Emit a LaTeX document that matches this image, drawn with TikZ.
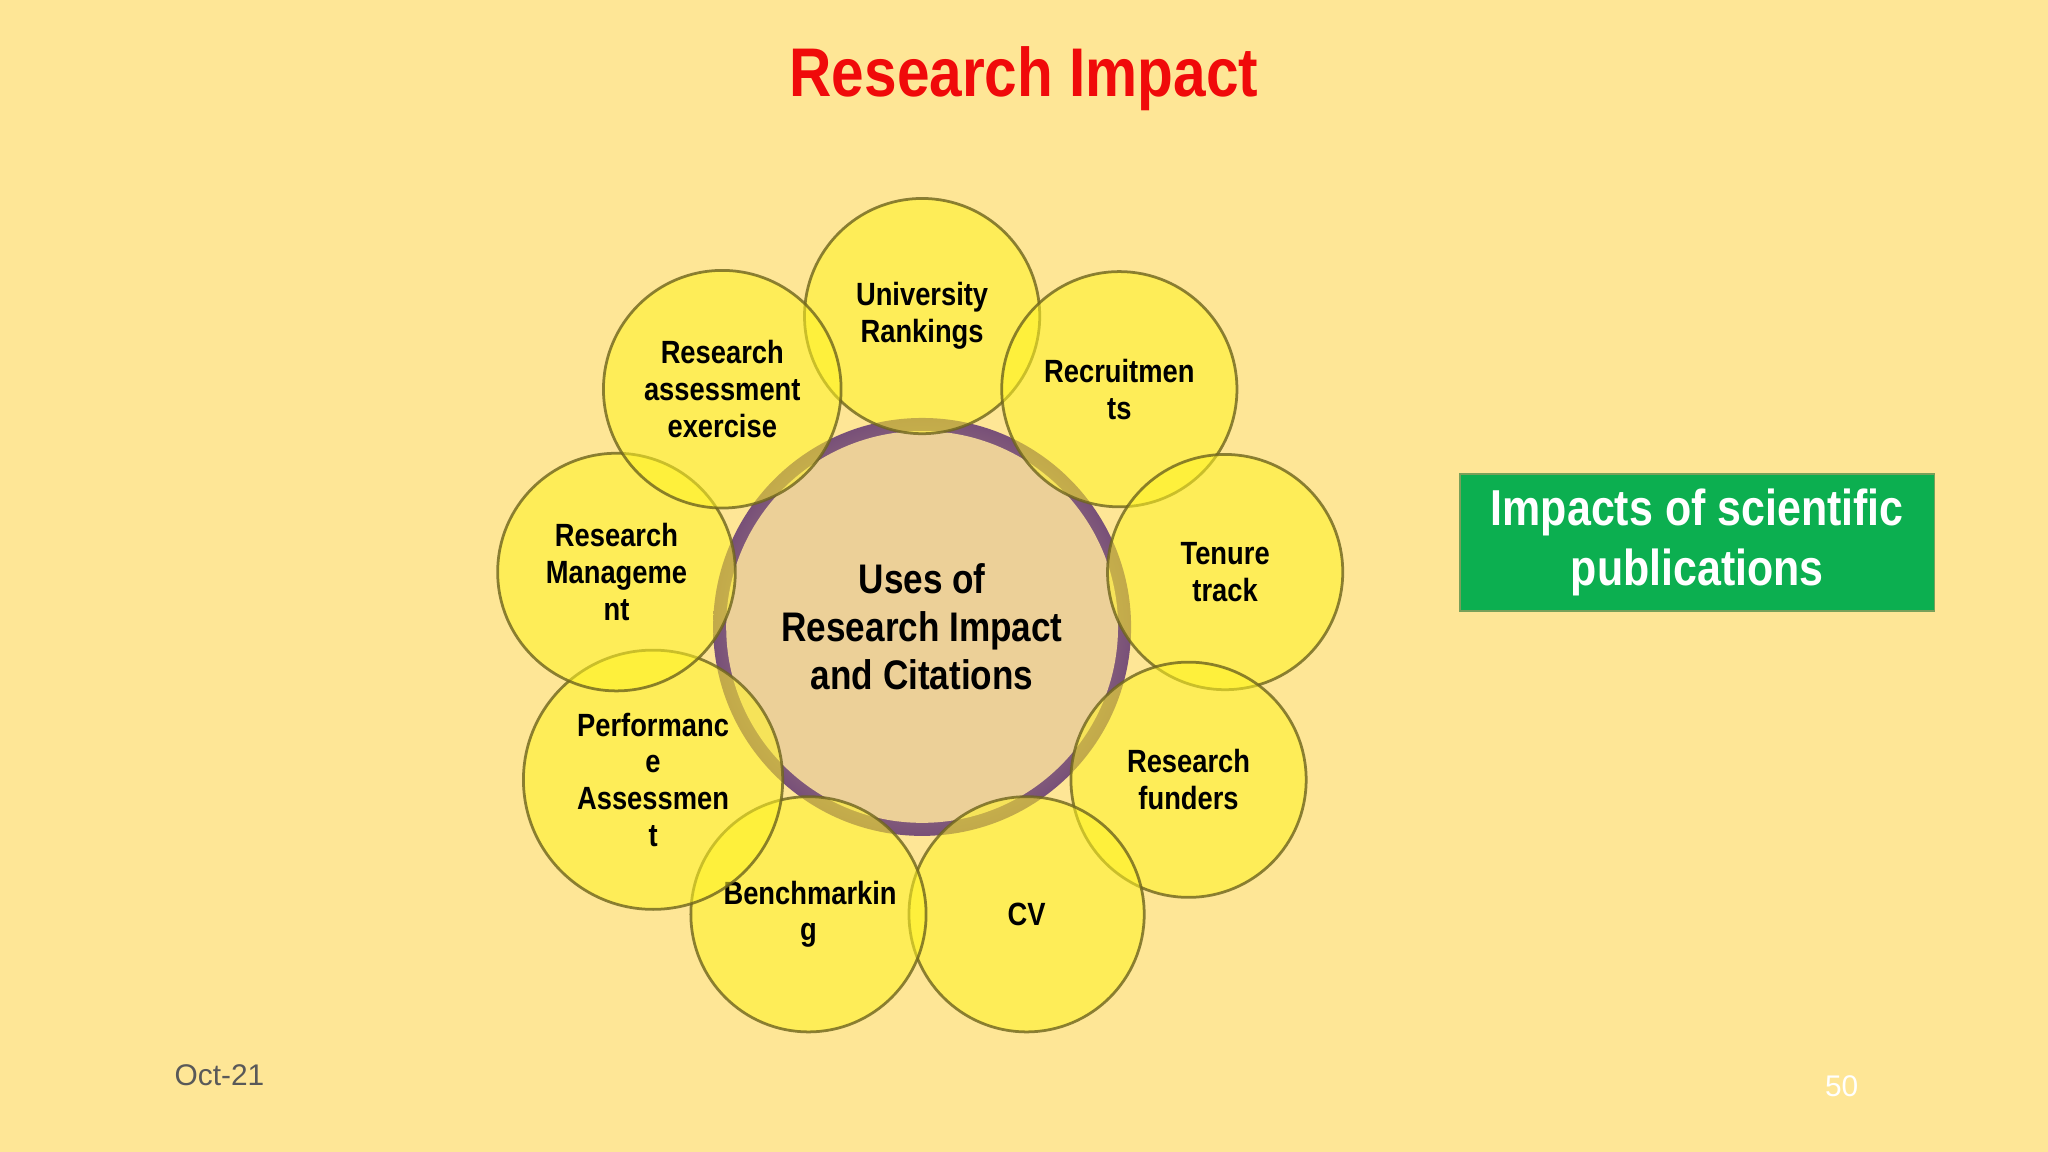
\documentclass[tikz,border=0pt]{standalone}
\usepackage{fontspec}
\setmainfont{Liberation Sans}[FakeStretch=0.85]
\newfontfamily\plain{Liberation Sans}
\definecolor{bg}{RGB}{254,230,150}
\definecolor{titlered}{RGB}{240,10,10}
\definecolor{cin}{RGB}{238,208,150}
\definecolor{cout}{RGB}{120,80,120}
\definecolor{cfill}{RGB}{236,208,152}
\definecolor{gfill}{RGB}{12,175,80}
\definecolor{gdraw}{RGB}{120,160,90}
\definecolor{sdraw}{RGB}{110,100,30}
\begin{document}
\begin{tikzpicture}[x=0.01cm,y=-0.01cm,
  sat/.style={circle,minimum size=1.8cm,draw=sdraw,line width=0.6pt,fill=yellow!85!white,fill opacity=0.55,draw opacity=0.8,text opacity=1,align=center,font=\bfseries\fontsize{7}{8}\selectfont,text width=1.3cm},
]
\fill[bg] (0,0) rectangle (1568,882);
\useasboundingbox (0,0) rectangle (1568,882);
\node[font=\bfseries\fontsize{15}{17}\selectfont,text=titlered] (title) at (784,60) {Research Impact};
\shade[inner color=cin,outer color=cout] (706,480) circle (160);
\fill[cfill] (706,480) circle (150);
\node[align=center,font=\bfseries\fontsize{9}{10.5}\selectfont] (c) at (706,480) {Uses of\\Research Impact\\and Citations};
\node[sat] (s1) at (706,242) {University\\Rankings};
\node[sat] (s2) at (857,298) {Recruitmen\\ts};
\node[sat] (s3) at (938,438) {Tenure\\track};
\node[sat] (s4) at (910,597) {Research\\funders};
\node[sat] (s5) at (786,700) {CV};
\node[sat] (s6) at (619,700) {Benchmarkin\\g};
\node[sat] (s7) at (500,597) {Performanc\\e\\Assessmen\\t};
\node[sat] (s8) at (472,438) {Research\\Manageme\\nt};
\node[sat] (s9) at (553,298) {Research\\assessment\\exercise};
\node[fill=gfill,draw=gdraw,minimum width=3.63cm,minimum height=1.05cm,align=center,text=white,font=\bfseries\fontsize{11}{13}\selectfont] (g) at (1299.5,415.5) {Impacts of scientific\\publications};
\node[font=\plain\fontsize{6.5}{7}\selectfont,text=black!65] (d) at (168,823) {Oct-21};
\node[font=\plain\fontsize{6.5}{7}\selectfont,text=white] (p) at (1410,832) {50};
\end{tikzpicture}
\end{document}
